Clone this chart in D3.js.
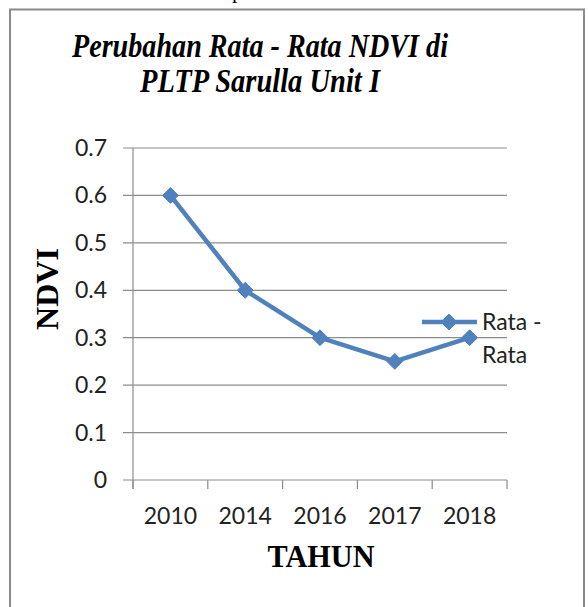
<!DOCTYPE html>
<html><head><meta charset="utf-8">
<script src="https://cdn.jsdelivr.net/npm/d3@7"></script>
<style>html,body{margin:0;padding:0;background:#fff;}svg{display:block;}</style>
</head><body>
<script>
const years = ["2010","2014","2016","2017","2018"];
const ndvi = [0.6, 0.4, 0.3, 0.25, 0.3];
const yTicks = [0, 0.1, 0.2, 0.3, 0.4, 0.5, 0.6, 0.7];
const titleLines = ["Perubahan Rata - Rata NDVI di", "PLTP Sarulla Unit I"];
const seriesName = ["Rata -", "Rata"];
const xTitle = "TAHUN", yTitle = "NDVI";

const W = 588, H = 607;
const blue = "#4F81BD", grid = "#8c8c8c";
const svg = d3.select("body").append("svg").attr("width", W).attr("height", H);

// stray text descender from document above (cut off in the reference as well)
svg.append("text").attr("x", 232).attr("y", -2).attr("font-family", "Liberation Serif").attr("font-size", 22).text("p");

// chart border
svg.append("rect").attr("x", 10).attr("y", 9.5).attr("width", 574).attr("height", 610)
  .attr("fill", "none").attr("stroke", "#8a8a8a").attr("stroke-width", 2);

// title
svg.selectAll("text.title").data(titleLines).join("text").attr("class","title")
  .attr("x", 260).attr("y", (d,i) => 57 + i*35).attr("text-anchor","middle")
  .attr("font-family","Liberation Serif").attr("font-weight","bold").attr("font-style","italic")
  .attr("font-size", 34)
  .attr("textLength", (d,i) => i === 0 ? 376 : 240).attr("lengthAdjust","spacingAndGlyphs")
  .text(d => d);

const x = d3.scaleBand().domain(years).range([133, 507]).paddingInner(0).paddingOuter(0);
const y = d3.scaleLinear().domain([0, 0.7]).range([480, 148]);

// gridlines + y ticks
svg.selectAll("line.grid").data(yTicks).join("line").attr("class","grid")
  .attr("x1", 123).attr("x2", 507).attr("y1", d => y(d)).attr("y2", d => y(d))
  .attr("stroke", grid).attr("stroke-width", 1.2);
svg.selectAll("text.ytick").data(yTicks).join("text").attr("class","ytick")
  .attr("x", 107).attr("y", d => y(d) + 8).attr("text-anchor","end")
  .attr("font-family","Lato").attr("font-size", 23).attr("fill","#222")
  .text(d => d === 0 ? "0" : d.toFixed(1));

// y axis line
svg.append("line").attr("x1",133).attr("x2",133).attr("y1",148).attr("y2",489)
  .attr("stroke", grid).attr("stroke-width",1.2);
// x tick marks at band boundaries
const bounds = years.map(d => x(d)).concat([x(years[years.length-1]) + x.bandwidth()]);
svg.selectAll("line.xtick").data(bounds).join("line").attr("class","xtick")
  .attr("x1", d => d).attr("x2", d => d).attr("y1", 480).attr("y2", 489)
  .attr("stroke", grid).attr("stroke-width",1.2);
svg.selectAll("text.xlab").data(years).join("text").attr("class","xlab")
  .attr("x", d => x(d) + x.bandwidth()/2).attr("y", 524).attr("text-anchor","middle")
  .attr("font-family","Lato").attr("font-size", 23).attr("fill","#222").text(d => d);

// axis titles
svg.append("text").attr("x", 321).attr("y", 567).attr("text-anchor","middle")
  .attr("font-family","Liberation Serif").attr("font-weight","bold").attr("font-size", 32)
  .attr("textLength", 107).attr("lengthAdjust","spacingAndGlyphs").text(xTitle);
svg.append("text").attr("transform","translate(58,289) rotate(-90)").attr("text-anchor","middle")
  .attr("font-family","Liberation Serif").attr("font-weight","bold").attr("font-size", 32)
  .attr("textLength", 82).attr("lengthAdjust","spacingAndGlyphs").text(yTitle);

// series
const pts = years.map((d,i) => [x(d) + x.bandwidth()/2, y(ndvi[i])]);
svg.append("path").attr("d", d3.line()(pts)).attr("fill","none")
  .attr("stroke", blue).attr("stroke-width", 4.5).attr("stroke-linejoin","round");
const diamond = d3.symbol().type(d3.symbolDiamond2).size(160);
svg.selectAll("path.mk").data(pts).join("path").attr("class","mk")
  .attr("transform", d => `translate(${d[0]},${d[1]})`).attr("d", diamond)
  .attr("fill", blue).attr("stroke", blue).attr("stroke-width", 1);

// legend
svg.append("line").attr("x1",422).attr("x2",477).attr("y1",322).attr("y2",322)
  .attr("stroke", blue).attr("stroke-width",4.5);
svg.append("path").attr("transform","translate(449,322)").attr("d", diamond)
  .attr("fill", blue).attr("stroke", blue);
svg.selectAll("text.leg").data(seriesName).join("text").attr("class","leg")
  .attr("x", 482).attr("y", (d,i) => 330 + i*33)
  .attr("font-family","Lato").attr("font-size", 23).attr("fill","#222").text(d => d);
</script>
</body></html>
